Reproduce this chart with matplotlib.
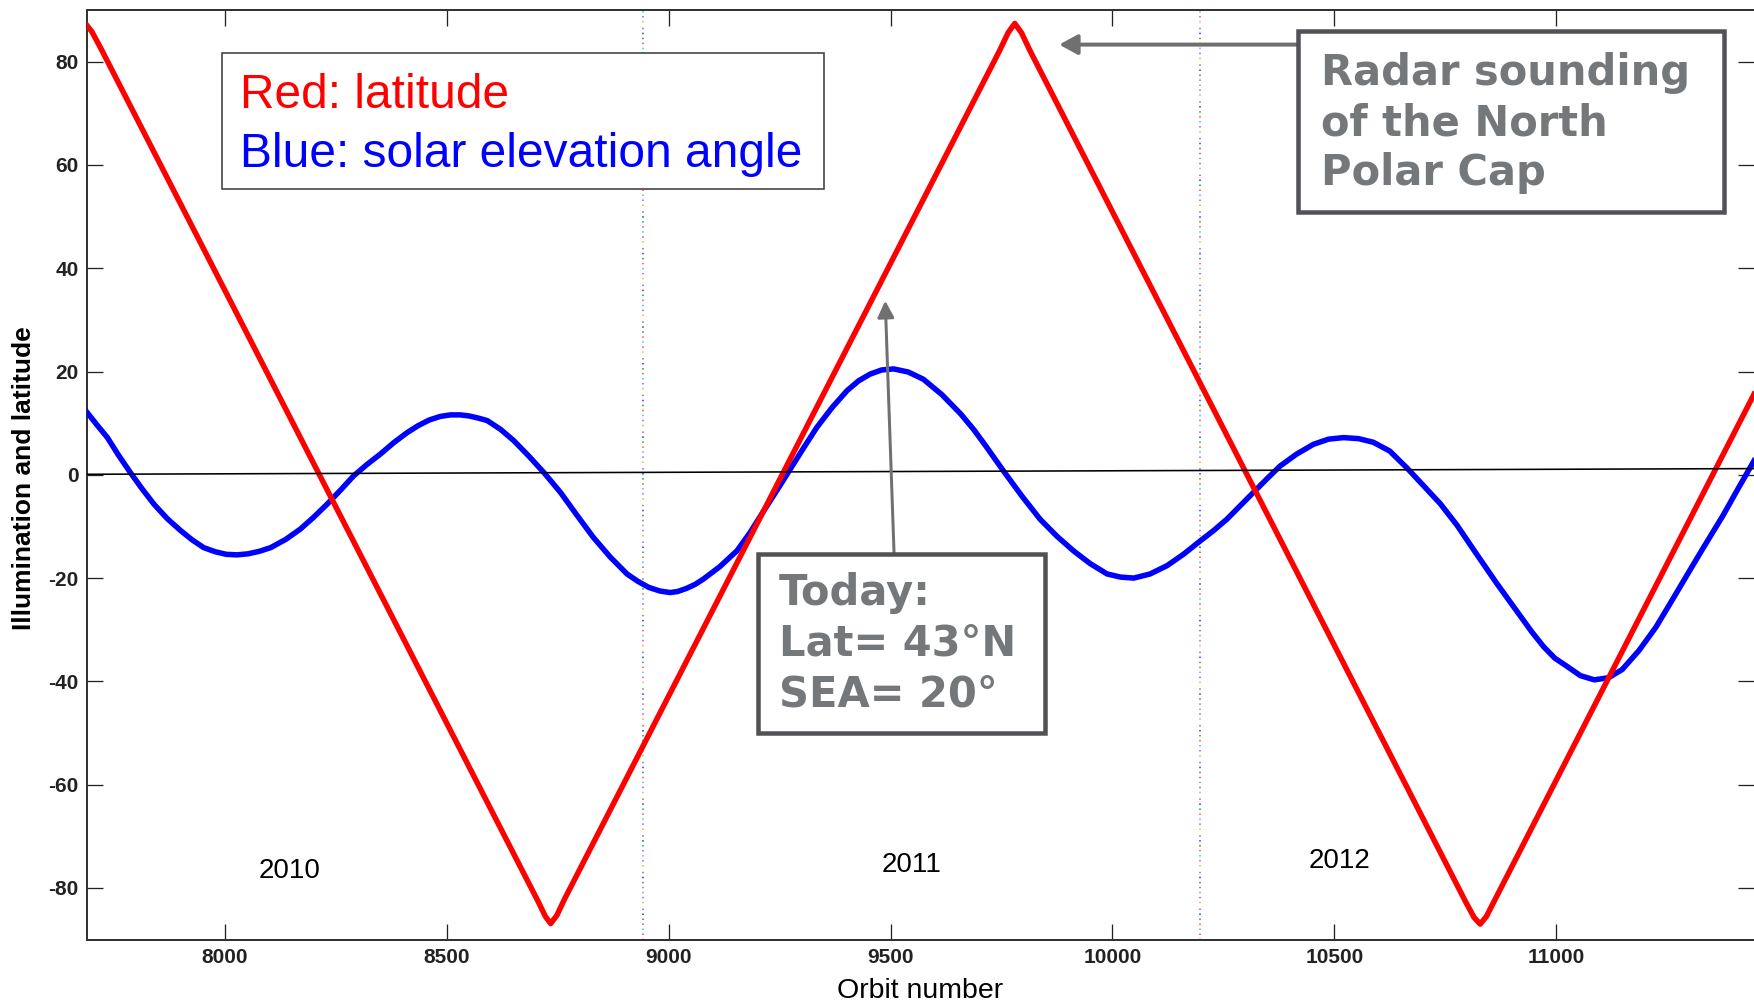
import matplotlib
matplotlib.use("Agg")
import matplotlib.pyplot as plt
from matplotlib.patches import Rectangle

# ---------------------------------------------------------------
# Data
# ---------------------------------------------------------------
# red curve: sub-spacecraft latitude vs orbit number
lat_orbit = [7689, 7700, 7720, 8705, 8722, 8734, 8748, 8765,
             9745, 9765, 9780, 9795, 9815,
             10795, 10815, 10829, 10843, 10862, 11446]
lat_deg = [87.0, 85.8, 82.6, -82.5, -85.5, -86.9, -85.3, -82.2,
           82.0, 85.6, 87.4, 85.6, 82.0,
           -82.5, -85.7, -87.0, -85.5, -82.3, 15.6]

# blue curve: solar elevation angle vs orbit number
sea_orbit = [7689, 7712, 7735, 7760, 7787, 7813, 7840, 7870, 7900, 7926, 7952,
             7978, 8003, 8027, 8052, 8078, 8103, 8137, 8170, 8200, 8230, 8260,
             8290, 8320, 8350, 8380, 8411, 8435, 8460, 8485, 8508, 8530, 8550,
             8570, 8591, 8621, 8651, 8685, 8719, 8756, 8793, 8830, 8868, 8906,
             8930, 8955, 8980, 9003, 9020, 9040, 9060, 9078, 9115, 9154, 9184,
             9214, 9244, 9274, 9304, 9334, 9368, 9402, 9428, 9454, 9480, 9507,
             9540, 9574, 9616, 9658, 9688, 9717, 9754, 9795, 9837, 9875, 9912,
             9950, 9988, 10018, 10048, 10085, 10123, 10160, 10198, 10228, 10258,
             10288, 10318, 10348, 10378, 10415, 10453, 10487, 10521, 10555, 10588,
             10625, 10663, 10700, 10739, 10777, 10814, 10866, 10919, 10946, 10972,
             10997, 11023, 11055, 11086, 11118, 11149, 11187, 11225, 11262, 11300,
             11332, 11376, 11410, 11446]
sea_deg = [12.1, 9.6, 7.2, 3.8, 0.4, -2.7, -5.7, -8.5, -10.8, -12.6, -14.1,
           -14.9, -15.4, -15.5, -15.3, -14.8, -14.1, -12.5, -10.5, -8.2, -5.7, -3.0,
           -0.2, 2.0, 4.0, 6.2, 8.2, 9.5, 10.6, 11.3, 11.6, 11.6, 11.4,
           11.0, 10.5, 8.8, 6.6, 3.6, 0.4, -3.4, -7.8, -12.1, -15.9, -19.2,
           -20.6, -21.8, -22.5, -22.8, -22.6, -22.0, -21.2, -20.2, -17.8, -14.7, -11.1,
           -7.0, -3.0, 1.1, 5.2, 9.2, 13.0, 16.3, 18.2, 19.5, 20.3, 20.5,
           19.9, 18.5, 15.5, 11.8, 8.7, 5.3, 0.8, -4.0, -8.6, -11.9, -14.7,
           -17.2, -19.2, -19.8, -20.0, -19.2, -17.6, -15.4, -12.8, -10.8, -8.6,
           -6.0, -3.4, -0.8, 1.7, 4.0, 5.9, 6.9, 7.2, 7.0, 6.3,
           4.6, 1.4, -2.0, -5.6, -9.8, -14.5, -21.0, -27.3, -30.5, -33.3,
           -35.5, -37.0, -38.9, -39.7, -39.3, -37.7, -34.0, -29.5, -24.2, -18.7,
           -14.1, -7.9, -2.7, 2.7]

# reference line drawn across the plot (slightly tilted in the original)
zero_x = [7689, 11446]
zero_y = [0.1, 1.2]

# year boundaries (dotted lines) and year labels
year_bounds = [8942, 10197]
year_names = ["2010", "2011", "2012"]
year_x = [8146, 9548, 10511]
year_y = [-76.7, -75.6, -74.7]

x_ticks = [8000, 8500, 9000, 9500, 10000, 10500, 11000]
y_ticks = [-80, -60, -40, -20, 0, 20, 40, 60, 80]

# ---------------------------------------------------------------
# Figure setup
# ---------------------------------------------------------------
W, H = 1754, 1002
plt.rcParams["font.family"] = ["Liberation Sans", "DejaVu Sans"]
plt.rcParams["axes.unicode_minus"] = False
plt.rcParams["lines.scale_dashes"] = False

fig = plt.figure(figsize=(W / 100, H / 100), dpi=100)
ax = fig.add_axes([87 / W, 1 - 939.6 / H, 1 - 87 / W, (939.6 - 10) / H])

GRAY_TXT = "#75787b"
GRAY_BOX = "#505256"
PX = 0.72  # points per pixel at dpi 100

# dotted multicolour year separators (MATLAB style)
dot_colors = ["#c8c832", "#e040e0", "#30d0d0", "#ff5050", "#30a030", "#3030ff", "#808080"]
period = 36.7 * PX
for xb in year_bounds:
    for i, c in enumerate(dot_colors):
        pos = i * 5 * PX
        ax.plot([xb, xb], [-90, 90], color=c, lw=1.6 * PX,
                linestyle=((period - pos) % period, (1.5 * PX, period - 1.5 * PX)),
                zorder=1)

ax.plot(sea_orbit, sea_deg, color="#0000ff", lw=5.5 * PX, zorder=3,
        solid_joinstyle="round")
ax.plot(lat_orbit, lat_deg, color="#ff0000", lw=5.5 * PX, zorder=4,
        solid_joinstyle="round")
ax.plot(zero_x, zero_y, color="black", lw=1.6 * PX, zorder=5)

for name, xx, yy in zip(year_names, year_x, year_y):
    ax.text(xx, yy, name, fontsize=20, ha="center", va="center", color="black")

ax.set_xlim(7689, 11446)
ax.set_ylim(-90, 90)
ax.set_xticks(x_ticks)
ax.set_yticks(y_ticks)
ax.tick_params(direction="in", length=16 * PX, width=1.3 * PX, top=True, right=True,
               labelsize=15, pad=6, colors="#222222")
for lab in ax.get_xticklabels() + ax.get_yticklabels():
    lab.set_fontweight("bold")
for side in ["left", "bottom", "top"]:
    ax.spines[side].set_linewidth(2 * PX)
    ax.spines[side].set_color("#333333")
ax.spines["right"].set_visible(False)

fig.text(24 / W, 1 - 478 / H, "Illumination and latitude", rotation=90,
         ha="center", va="center", fontsize=19, fontweight="bold")
fig.text(920 / W, 1 - 998 / H, "Orbit number", ha="center", va="baseline", fontsize=20.5)


# ---------------------------------------------------------------
# Text boxes (positions in figure pixels)
# ---------------------------------------------------------------
def box(x0, y0, x1, y1, lw, ec):
    r = Rectangle((x0 / W, 1 - y1 / H), (x1 - x0) / W, (y1 - y0) / H,
                  transform=fig.transFigure, facecolor="white", edgecolor=ec,
                  lw=lw * PX, zorder=10)
    fig.patches.append(r)


def lines_text(x, baselines, texts, **kw):
    for yb, t in zip(baselines, texts):
        fig.text(x / W, 1 - yb / H, t, va="baseline", ha="left", zorder=11, **kw)


# legend box
box(221.5, 52.6, 824.4, 189, 1.6, "#404040")
fig.text(240 / W, 1 - 108.3 / H, "Red: latitude", color="#ff0000", fontsize=34.5,
         va="baseline", zorder=11)
fig.text(240 / W, 1 - 166.7 / H, "Blue: solar elevation angle", color="#0000ff",
         fontsize=34.5, va="baseline", zorder=11)

# radar box
box(1298, 30.7, 1724, 211.7, 4.5, GRAY_BOX)
lines_text(1321, [85, 135, 185], ["Radar sounding", "of the North", "Polar Cap"],
           fontsize=30, fontweight="bold", color=GRAY_TXT, family="DejaVu Sans")

# today box
box(758, 554, 1045, 733, 4.5, GRAY_BOX)
lines_text(779, [605, 656, 706.7], ["Today:", "Lat= 43°N", "SEA= 20°"],
           fontsize=30, fontweight="bold", color=GRAY_TXT, family="DejaVu Sans")

# arrows
ax.annotate("", xy=(9880, 83.3), xytext=(10419, 83.3),
            arrowprops=dict(arrowstyle="-|>,head_length=0.55,head_width=0.3",
                            mutation_scale=20, lw=4 * PX, color="#707070",
                            shrinkA=0, shrinkB=0), zorder=9)
ax.annotate("", xy=(9488, 33.7), xytext=(9508, -15.5),
            arrowprops=dict(arrowstyle="-|>,head_length=0.5,head_width=0.25",
                            mutation_scale=20, lw=3 * PX, color="#707070",
                            shrinkA=0, shrinkB=0), zorder=9)

fig.savefig("out.png", dpi=100)
